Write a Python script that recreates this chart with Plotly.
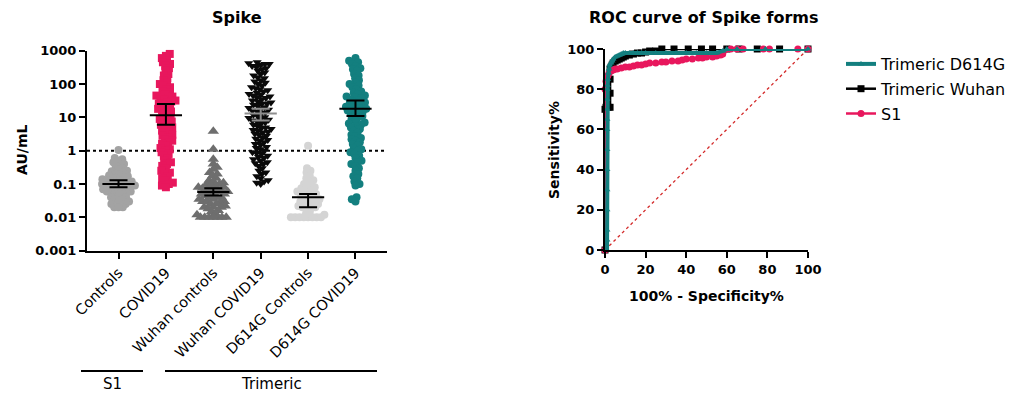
import numpy as np
import plotly.graph_objects as go

# ---------------- data ----------------
categories = ["Controls", "COVID19", "Wuhan controls", "Wuhan COVID19",
              "D614G Controls", "D614G COVID19"]

s1_controls = [1.05, 0.6, 0.55, 0.5, 0.45, 0.4, 0.38, 0.35, 0.3, 0.28, 0.25, 0.24, 0.22, 0.2,
               0.19, 0.18, 0.17, 0.16, 0.15, 0.15, 0.14, 0.13, 0.13, 0.12, 0.12, 0.11, 0.11,
               0.1, 0.1, 0.1, 0.09, 0.09, 0.09, 0.08, 0.08, 0.08, 0.07, 0.07, 0.07, 0.06,
               0.06, 0.06, 0.055, 0.05, 0.05, 0.045, 0.04, 0.04, 0.035, 0.035, 0.03, 0.03,
               0.025, 0.025, 0.02, 0.02, 0.02]
s1_covid = [800, 700, 600, 500, 450, 400, 350, 300, 250, 200, 180, 150, 130, 110, 100, 90,
            80, 70, 60, 55, 50, 45, 42, 40, 38, 35, 32, 30, 28, 26, 25, 22, 20, 18, 16, 15,
            14, 12, 11, 10, 9, 8, 7.5, 7, 6, 5.5, 5, 4.5, 4, 3.5, 3, 2.8, 2.5, 2.2, 2, 1.8,
            1.6, 1.4, 1.2, 1.1, 1.0, 0.9, 0.8, 0.7, 0.6, 0.5, 0.45, 0.4, 0.35, 0.3, 0.25,
            0.22, 0.2, 0.17, 0.15, 0.13, 0.11, 0.1, 0.09, 0.08]
wuhan_controls = [3.8, 1.1, 0.55, 0.4, 0.32, 0.28, 0.22, 0.2, 0.18, 0.15, 0.13, 0.12, 0.11,
                  0.1, 0.1, 0.09, 0.09, 0.08, 0.08, 0.075, 0.07, 0.07, 0.065, 0.06, 0.06,
                  0.055, 0.05, 0.05, 0.05, 0.045, 0.04, 0.04, 0.04, 0.035, 0.035, 0.03, 0.03,
                  0.03, 0.028, 0.025, 0.025, 0.022, 0.02, 0.02, 0.02, 0.018, 0.016, 0.015,
                  0.013, 0.012, 0.01, 0.01, 0.01, 0.01, 0.01, 0.01, 0.01]
wuhan_covid = [450, 420, 400, 400, 380, 350, 330, 300, 280, 250, 220, 200, 180, 160, 150, 130,
               120, 110, 100, 90, 80, 75, 70, 65, 60, 55, 50, 48, 45, 42, 40, 38, 35, 32, 30,
               28, 26, 25, 24, 22, 20, 19, 18, 17, 16, 15, 14, 13, 12, 11, 10, 9.5, 9, 8.5, 8,
               7.5, 7, 6.5, 6, 5.5, 5, 4.8, 4.5, 4.2, 4, 3.7, 3.5, 3.2, 3, 2.8, 2.5, 2.3, 2.1,
               2, 1.8, 1.6, 1.5, 1.3, 1.2, 1.1, 1.0, 0.9, 0.85, 0.8, 0.7, 0.65, 0.6, 0.55,
               0.5, 0.45, 0.42, 0.4, 0.35, 0.3, 0.25, 0.22, 0.2, 0.17, 0.15, 0.13, 0.12,
               0.11, 0.1]
d614g_controls = [1.4, 0.3, 0.25, 0.22, 0.18, 0.15, 0.13, 0.12, 0.1, 0.09, 0.08, 0.075, 0.07,
                  0.065, 0.06, 0.055, 0.05, 0.05, 0.045, 0.04, 0.04, 0.035, 0.035, 0.03,
                  0.03, 0.03, 0.025, 0.025, 0.022, 0.02, 0.02, 0.02, 0.018, 0.015, 0.013,
                  0.012, 0.01, 0.01, 0.01, 0.01, 0.01, 0.01, 0.01, 0.01]
d614g_covid = [600, 500, 450, 400, 350, 300, 280, 250, 200, 180, 150, 130, 110, 100, 90, 80,
               70, 60, 55, 50, 45, 42, 40, 38, 35, 32, 30, 28, 26, 25, 23, 21, 20, 19, 18, 17,
               16, 15, 14, 13, 12, 11, 10, 9, 8, 7, 6.5, 6, 5.5, 5, 4.5, 4, 3.5, 3, 2.7, 2.4,
               2.2, 2, 1.8, 1.6, 1.4, 1.2, 1.1, 1.0, 0.9, 0.8, 0.7, 0.6, 0.5, 0.45, 0.4,
               0.35, 0.3, 0.25, 0.2, 0.17, 0.15, 0.12, 0.1, 0.09, 0.04, 0.035, 0.03]

group_values = [s1_controls, s1_covid, wuhan_controls, wuhan_covid, d614g_controls, d614g_covid]
group_center = [0.1, 11.5, 0.058, 13, 0.04, 18]
group_ci_low = [0.08, 6, 0.045, 8, 0.02, 11]
group_ci_high = [0.13, 25, 0.075, 18, 0.05, 32]
cutoff = 1

y_tick_vals = [0.001, 0.01, 0.1, 1, 10, 100, 1000]
y_tick_text = ["0.001", "0.01", "0.1", "1", "10", "100", "1000"]

# ROC curves (100% - specificity, sensitivity)
roc_d614g_x = [1, 1, 1, 1, 1, 1, 1, 1, 1, 1, 1, 1, 1.2, 1.4, 1.7, 2, 2.3,
               3, 3.5, 4, 5, 6, 7, 8, 9, 10, 12, 14, 16, 18, 20, 25, 30, 35, 40, 45, 50, 55,
               58, 60, 65, 79, 100]
roc_d614g_y = [0, 5, 10, 20, 30, 40, 50, 60, 65, 70, 75, 80, 82, 85, 88, 90, 92, 93, 94, 95,
               96, 96.5, 97, 97.5, 98, 98, 98, 98, 98, 98, 98, 98, 98, 98, 98, 98, 98, 98, 99,
               100, 100, 100, 100]
roc_wuhan_x = [0, 0, 0.5, 1, 1.5, 2.5, 2.5, 2.5, 2.5, 3, 3.5, 4, 5, 6, 7, 8, 9, 10,
               12, 14, 16, 18, 20, 22, 25, 28, 34, 41, 47.5, 53, 60, 66, 75, 86, 100]
roc_wuhan_y = [0, 70, 71, 71, 71, 71, 78, 85, 90, 91, 92, 93, 94, 94.5, 95, 95.5,
               96, 96.5, 97, 97.5, 98, 98, 98.5, 99, 99, 100, 100, 100, 100, 100, 100, 100,
               100, 100, 100]
roc_s1_x = [0, 0, 0.5, 1, 1.5, 2, 3, 4, 5, 6, 8, 10, 12, 14, 16, 18, 20, 22, 25, 28,
            30, 33, 36, 38, 40, 43, 46, 48, 50, 53, 55, 57, 58, 62, 65, 68, 78, 81, 95, 100]
roc_s1_y = [0, 80, 84, 86, 87, 88, 89, 89.5, 90, 90, 90.5, 91, 91, 91.5, 92, 92, 92.5,
            93, 93, 93.5, 93.5, 94, 94, 94.5, 95, 95, 95.5, 95.5, 96, 96, 96.5, 97, 97.5,
            100, 100, 100, 100, 100, 100, 100]
roc_ref_x = [0, 100]
roc_ref_y = [0, 100]

# ---------------- styles ----------------
W, H = 1009, 398
FONT = "DejaVu Sans"
PINK = "#E8175D"
TEAL = "#137F7F"
group_colors = ["#A3A3A3", PINK, "#6E6E6E", "#0A0A0A", "#D4D4D4", TEAL]
group_symbols = ["circle", "square", "triangle-up", "triangle-down", "circle", "circle"]
group_sizes = [8, 8, 10, 8, 8, 8]
err_colors = ["black", "black", "black", "#8E8E8E", "black", "black"]

# left panel geometry (px)
L_x0, L_x1 = 87, 387
L_ytop, L_ybot = 50.7, 250.7
x_lo, x_hi = -0.665, 5.665
px_per_cat = (L_x1 - L_x0) / (x_hi - x_lo)
px_per_dec = (L_ybot - L_ytop) / 6.0


def beeswarm(vals, d):
    ys = np.log10(np.asarray(vals, float)) * px_per_dec
    order = np.argsort(ys)
    xs = np.zeros(len(ys))
    placed = []
    for k, i in enumerate(order):
        y = ys[i]
        near = [(py, pxx) for py, pxx in placed if abs(py - y) < d]
        cands = [0.0]
        for py, pxx in near:
            dx = np.sqrt(max(d * d - (py - y) ** 2, 0))
            cands += [pxx + dx, pxx - dx]
        sgn = 1 if k % 2 == 0 else -1
        cands.sort(key=lambda c: (round(abs(c), 3), -sgn * c))
        for c in cands:
            if all((c - pxx) ** 2 + (y - py) ** 2 >= d * d - 1e-6 for py, pxx in near):
                xs[i] = c
                placed.append((y, c))
                break
    return xs / px_per_cat


fig = go.Figure()

# cutoff line
fig.add_trace(go.Scatter(x=[x_lo, x_hi], y=[cutoff, cutoff], mode="lines",
                         line=dict(color="black", width=2, dash="dot"),
                         showlegend=False, hoverinfo="skip", xaxis="x", yaxis="y"))

for i, vals in enumerate(group_values):
    off = beeswarm(vals, 4.3)
    fig.add_trace(go.Scatter(
        x=i + off, y=vals, mode="markers",
        marker=dict(color=group_colors[i], symbol=group_symbols[i], size=group_sizes[i],
                    line=dict(width=0)),
        showlegend=False, xaxis="x", yaxis="y", cliponaxis=False))

for i in range(len(group_values)):
    c, lo, hi = group_center[i], group_ci_low[i], group_ci_high[i]
    ex = [i - 0.34, i + 0.34, None, i, i, None, i - 0.19, i + 0.19, None, i - 0.19, i + 0.19]
    ey = [c, c, None, lo, hi, None, lo, lo, None, hi, hi]
    fig.add_trace(go.Scatter(x=ex, y=ey, mode="lines",
                             line=dict(color=err_colors[i], width=2),
                             showlegend=False, hoverinfo="skip", xaxis="x", yaxis="y"))

# ROC panel
fig.add_trace(go.Scatter(x=roc_ref_x, y=roc_ref_y, mode="lines",
                         line=dict(color="#D42A2A", width=1.3, dash="dot"),
                         showlegend=False, xaxis="x2", yaxis="y2"))
fig.add_trace(go.Scatter(x=roc_wuhan_x, y=roc_wuhan_y, mode="lines+markers",
                         name="Trimeric Wuhan", legendgroup="b", legendrank=2,
                         line=dict(color="black", width=2.5),
                         marker=dict(symbol="square", size=7, color="black"),
                         xaxis="x2", yaxis="y2", cliponaxis=False))
fig.add_trace(go.Scatter(x=roc_s1_x, y=roc_s1_y, mode="lines+markers",
                         name="S1", legendgroup="c", legendrank=3,
                         line=dict(color=PINK, width=2.5),
                         marker=dict(symbol="circle", size=7, color=PINK),
                         xaxis="x2", yaxis="y2", cliponaxis=False))
fig.add_trace(go.Scatter(x=roc_d614g_x, y=roc_d614g_y, mode="lines+markers",
                         name="Trimeric D614G", legendgroup="a", legendrank=1,
                         line=dict(color=TEAL, width=4),
                         marker=dict(symbol="triangle-up", size=6, color=TEAL),
                         xaxis="x2", yaxis="y2", cliponaxis=False))

tick_bold = dict(family=FONT, size=13, color="black", weight="bold")
axis_common = dict(showline=True, linewidth=2, linecolor="black", ticks="outside",
                   ticklen=6, tickwidth=2, tickcolor="black", showgrid=False,
                   zeroline=False, automargin=False)


def px2x(px):
    return px / W


def px2y(py):
    return 1 - py / H


fig.update_layout(
    width=W, height=H, margin=dict(l=0, r=0, t=0, b=0, autoexpand=False),
    paper_bgcolor="white", plot_bgcolor="white",
    font=dict(family=FONT, color="black"),
    xaxis=dict(domain=[px2x(L_x0), px2x(L_x1)], range=[x_lo, x_hi], anchor="y",
               tickvals=list(range(len(categories))), ticktext=categories,
               tickangle=-45, tickfont=dict(family=FONT, size=14.5, color="black"),
               **axis_common),
    yaxis=dict(domain=[px2y(L_ybot), px2y(L_ytop)], type="log", range=[-3, 3],
               anchor="x", tickvals=y_tick_vals, ticktext=y_tick_text,
               tickfont=tick_bold, **axis_common),
    xaxis2=dict(domain=[px2x(605), px2x(808)], range=[0, 100], anchor="y2",
                tickvals=[0, 20, 40, 60, 80, 100], tickfont=tick_bold, **axis_common),
    yaxis2=dict(domain=[px2y(250), px2y(49)], range=[0, 100], anchor="x2",
                tickvals=[0, 20, 40, 60, 80, 100], tickfont=tick_bold, **axis_common),
    legend=dict(x=px2x(841), y=px2y(47), xanchor="left", yanchor="top",
                font=dict(family=FONT, size=16, color="black"),
                tracegroupgap=1, bgcolor="rgba(0,0,0,0)", itemwidth=30),
    showlegend=True,
)

ann = [
    dict(text="Spike", x=px2x(237), y=px2y(18), size=16, bold=True, angle=0),
    dict(text="ROC curve of Spike forms", x=px2x(704), y=px2y(17), size=16, bold=True, angle=0),
    dict(text="AU/mL", x=px2x(22), y=px2y(150), size=14, bold=True, angle=-90),
    dict(text="Sensitivity%", x=px2x(554), y=px2y(150), size=14, bold=True, angle=-90),
    dict(text="100% - Specificity%", x=px2x(706), y=px2y(296), size=14, bold=True, angle=0),
    dict(text="S1", x=px2x(112), y=px2y(384), size=15, bold=False, angle=0),
    dict(text="Trimeric", x=px2x(271), y=px2y(384), size=15, bold=False, angle=0),
]
for a in ann:
    fig.add_annotation(text=a["text"], x=a["x"], y=a["y"], xref="paper", yref="paper",
                       showarrow=False, textangle=a["angle"], xanchor="center",
                       yanchor="middle",
                       font=dict(family=FONT, size=a["size"], color="black",
                                 weight="bold" if a["bold"] else "normal"))

fig.add_shape(type="line", xref="paper", yref="paper", x0=px2x(81), x1=px2x(143),
              y0=px2y(371), y1=px2y(371), line=dict(color="black", width=2))
fig.add_shape(type="line", xref="paper", yref="paper", x0=px2x(165), x1=px2x(377),
              y0=px2y(371), y1=px2y(371), line=dict(color="black", width=2))

fig.write_html("out.html")
